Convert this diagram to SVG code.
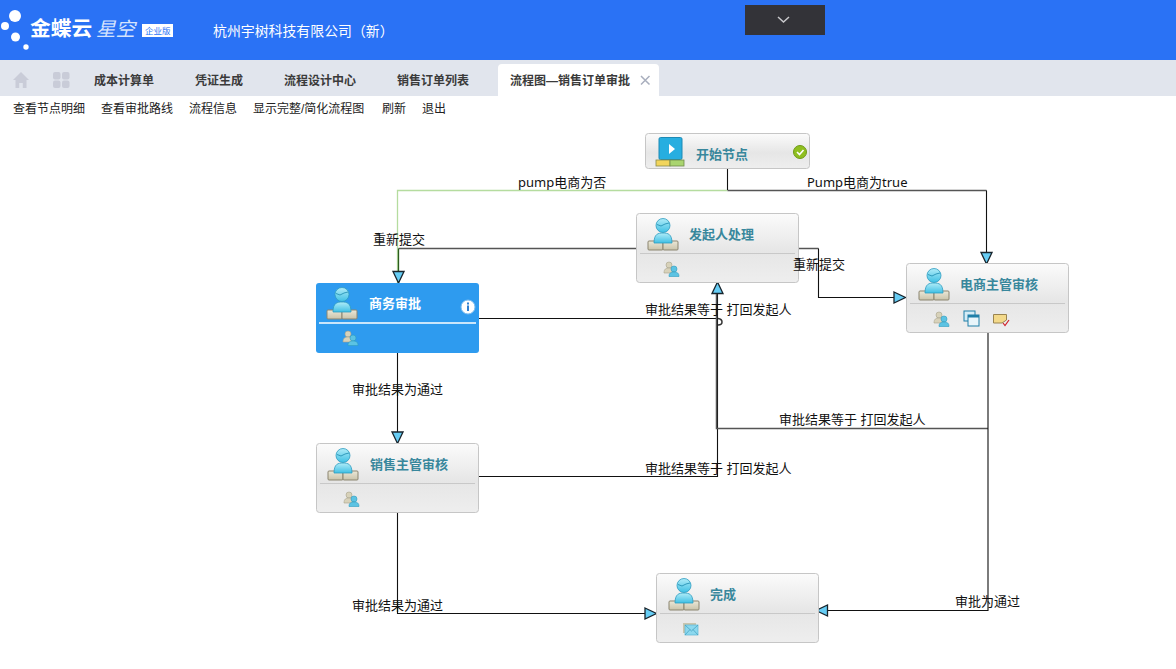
<svg xmlns="http://www.w3.org/2000/svg" xmlns:xlink="http://www.w3.org/1999/xlink" width="1176" height="669" viewBox="0 0 1176 669">
<style>
text{font-family:"Liberation Sans","Noto Sans CJK SC",sans-serif}
.lbl{font-size:13px;fill:#111;font-family:"Noto Sans","Noto Sans CJK SC",sans-serif}
.tb{font-size:12px;fill:#222}
.tab{font-size:12px;fill:#3a3a3a;font-weight:700}
.nm{font-size:13px;font-weight:700;fill:#38879c}
.box{fill:url(#nodeg);stroke:#c6c6c6;stroke-width:1}
.sep{stroke:#c8c8c8;stroke-width:1.2}
.c{fill:none;stroke:#111;stroke-width:1.1}
.g{fill:none;stroke:#555;stroke-width:1.5}
</style>
<defs>
<linearGradient id="nodeg" x1="0" y1="0" x2="0" y2="1"><stop offset="0" stop-color="#fbfbfb"/><stop offset=".55" stop-color="#e6e6e6"/><stop offset="1" stop-color="#eeeeee"/></linearGradient>
<linearGradient id="pg" x1="0" y1="0" x2="0" y2="1"><stop offset="0" stop-color="#b0ecf8"/><stop offset="1" stop-color="#40c0e4"/></linearGradient>
<linearGradient id="bg" x1="0" y1="0" x2="0" y2="1"><stop offset="0" stop-color="#ece8d8"/><stop offset="1" stop-color="#c9c3aa"/></linearGradient>
<marker id="arr" markerWidth="16" markerHeight="14" refX="13" refY="6.500" orient="auto" markerUnits="userSpaceOnUse"><path d="M1.500 1L13 6.500L1.500 12Z" fill="#66cdf5" stroke="#18242c" stroke-width="1.300"/></marker>
<g id="person">
<rect x="0" y="23" width="15" height="9" rx="1" fill="url(#bg)" stroke="#8b8570"/>
<rect x="15" y="23" width="15" height="9" rx="1" fill="url(#bg)" stroke="#8b8570"/>
<path d="M6 25C6 16 10 15 15 15C20 15 24 16 24 25Z" fill="url(#pg)" stroke="#2d9cc0" stroke-width=".8"/>
<circle cx="15" cy="7.500" r="7" fill="url(#pg)" stroke="#2d9cc0" stroke-width=".8"/>
<path d="M9 6.500L13 8L17 6L21 5" fill="none" stroke="#1d8aaf" stroke-width=".8"/>
</g>
<g id="users">
<circle cx="6" cy="4" r="3" fill="#d8d2ba" stroke="#a8a28c" stroke-width=".6"/>
<path d="M1 12C1 8 3 7 6 7C9 7 11 8 11 12Z" fill="#d8d2ba" stroke="#a8a28c" stroke-width=".6"/>
<circle cx="11" cy="8" r="3" fill="#5cc3e3" stroke="#2d9cc0" stroke-width=".6"/>
<path d="M6 15.500C6 12 8 11 11 11C14 11 16 12 16 15.500Z" fill="#5cc3e3" stroke="#2d9cc0" stroke-width=".6"/>
</g>
</defs>
<rect width="1176" height="669" fill="#fff"/>
<g id="header">
<rect width="1176" height="60" fill="#2a72f5"/>
<circle cx="15" cy="16" r="6" fill="#fff"/><circle cx="5" cy="26" r="4" fill="#fff"/><circle cx="15.500" cy="37" r="4.500" fill="#fff"/><circle cx="26" cy="47" r="2.700" fill="#fff"/>
<text x="30" y="36" font-size="20.700" font-weight="700" fill="#fff">金蝶云</text>
<text x="96" y="36" font-size="19.500" font-style="italic" fill="#d5e3fd">星空</text>
<rect x="142" y="24" width="31" height="13" fill="#fff"/><text x="145" y="34" font-size="8.500" fill="#2a72f5">企业版</text>
<text x="213" y="36" font-size="13.900" fill="#fff">杭州宇树科技有限公司（新）</text>
<rect x="745" y="5" width="80" height="30" fill="#333338"/>
<path d="M778 17L783.500 22L789 17" fill="none" stroke="#c9c9cc" stroke-width="1.500"/>
</g>
<g id="tabs">
<rect y="60" width="1176" height="36" fill="#e1e5ed"/>
<path d="M13 80L21 72L29 80H26.500V88H22.800V83H19.200V88H15.500V80Z" fill="#c9ccd8"/>
<rect x="53" y="72" width="7.500" height="7.500" rx="2" fill="#c9ccd8"/><rect x="62" y="72" width="7.500" height="7.500" rx="2" fill="#c9ccd8"/><rect x="53" y="80.500" width="7.500" height="7.500" rx="2" fill="#c9ccd8"/><rect x="62" y="80.500" width="7.500" height="7.500" rx="2" fill="#c9ccd8"/>
<text class="tab" x="94" y="85">成本计算单</text>
<text class="tab" x="195" y="85">凭证生成</text>
<text class="tab" x="284" y="85">流程设计中心</text>
<text class="tab" x="397" y="85">销售订单列表</text>
<path d="M498 96V68Q498 64 502 64H655Q659 64 659 68V96Z" fill="#fff"/>
<text class="tab" x="510" y="85">流程图—销售订单审批</text>
<path d="M641 76L649.500 84.500M649.500 76L641 84.500" stroke="#a8aebd" stroke-width="1.500"/>
</g>
<g id="toolbar">
<text class="tb" x="13" y="113">查看节点明细</text>
<text class="tb" x="101" y="113">查看审批路线</text>
<text class="tb" x="189" y="113">流程信息</text>
<text class="tb" x="253" y="113">显示完整/简化流程图</text>
<text class="tb" x="382" y="113">刷新</text>
<text class="tb" x="422" y="113">退出</text>
</g>
<g id="connectors">
<path d="M727.500 190.500H397.500V283" fill="none" stroke="#b5dc9f" stroke-width="1.300"/>
<path class="c" d="M727.500 168V190"/>
<path class="g" d="M727.500 190.500H986.500"/>
<path class="c" d="M986.500 190.500V264" marker-end="url(#arr)"/>
<path class="g" d="M636 248.500H398.500"/>
<path d="M398.500 248.500V283" fill="none" stroke="#2c5c1e" stroke-width="1.300" marker-end="url(#arr)"/>
<path class="g" d="M799 248.500H818.500"/>
<path class="c" d="M818.500 248.500V297.500H905.500" marker-end="url(#arr)"/>
<path class="c" d="M479 318.500H718"/>
<path d="M718 318.500Q722 319 722 322Q722 325 718 325" fill="none" stroke="#333" stroke-width="1.500"/>
<path class="c" d="M397.500 353V443.500" marker-end="url(#arr)"/>
<path class="c" d="M477 476.500H717.500V282" marker-end="url(#arr)"/>
<path class="g" d="M988 428.500H716.500V294"/>
<path class="c" d="M397.500 513V613.500H656.500" marker-end="url(#arr)"/>
<path class="c" d="M988 333V610.500H816" marker-end="url(#arr)"/>
</g>
<g id="node-start">
<rect class="box" x="645.500" y="133.500" width="164" height="35" rx="3"/>
<rect x="659" y="137.500" width="23" height="22" rx="1.500" fill="#27aee0" stroke="#1d8ab5"/>
<path d="M669 144L675 149L669 154Z" fill="#fff"/>
<rect x="656" y="160" width="14" height="6" fill="#f2d55c" stroke="#8b8b4a" stroke-width=".8"/>
<rect x="670" y="160" width="14" height="6" fill="#a9d46f" stroke="#6f8b4a" stroke-width=".8"/>
<text class="nm" x="696" y="159">开始节点</text>
<circle cx="800" cy="152" r="6.500" fill="#8fbf1f" stroke="#6f9a18"/>
<path d="M797 152L799.500 154.500L803.500 150" fill="none" stroke="#fff" stroke-width="1.600"/>
</g>
<g id="node-initiator">
<rect class="box" x="636.500" y="213.500" width="162" height="69" rx="3"/>
<use href="#person" x="648" y="218"/>
<text class="nm" x="689" y="239">发起人处理</text>
<line class="sep" x1="640" y1="253.500" x2="795" y2="253.500"/>
<use href="#users" x="663" y="261"/>
</g>
<g id="node-business">
<rect x="316" y="283" width="163" height="70" rx="3" fill="#2e9bef"/>
<use href="#person" x="327" y="287"/>
<text x="369" y="308" font-size="13" font-weight="700" fill="#fff">商务审批</text>
<circle cx="468" cy="307" r="7" fill="#fff" stroke="#7bbcf0"/>
<rect x="467" y="305.500" width="2" height="5.500" fill="#2e7fd0"/><rect x="467" y="302.500" width="2" height="2" fill="#2e7fd0"/>
<line x1="319" y1="323" x2="476" y2="323" stroke="#fff" stroke-width="1.300"/>
<use href="#users" x="342" y="330"/>
</g>
<g id="node-ecommerce">
<rect class="box" x="906.500" y="263.500" width="162" height="69" rx="3"/>
<use href="#person" x="919" y="268"/>
<text class="nm" x="960" y="289">电商主管审核</text>
<line class="sep" x1="910" y1="303.500" x2="1065" y2="303.500"/>
<use href="#users" x="933" y="311"/>
<rect x="964" y="311" width="11" height="10" fill="#d5ecf6" stroke="#1f7fa8"/>
<rect x="968" y="315" width="11" height="11" fill="#e9f5fa" stroke="#1f7fa8"/>
<rect x="968" y="315" width="11" height="2.500" fill="#1f7fa8"/>
<path d="M993.500 314.500H1006.500V320L1002 323H993.500Z" fill="#f3d98a" stroke="#9a8450"/>
<path d="M1003 323L1005 325.500L1009 320" fill="none" stroke="#d0202a" stroke-width="1.200"/>
</g>
<g id="node-sales">
<rect class="box" x="316.500" y="443.500" width="162" height="69" rx="3"/>
<use href="#person" x="328" y="448"/>
<text class="nm" x="370" y="469">销售主管审核</text>
<line class="sep" x1="320" y1="483.500" x2="475" y2="483.500"/>
<use href="#users" x="343" y="491"/>
</g>
<g id="node-end">
<rect class="box" x="656.500" y="573.500" width="162" height="69" rx="3"/>
<use href="#person" x="669" y="578"/>
<text class="nm" x="710" y="599">完成</text>
<line class="sep" x1="660" y1="613.500" x2="815" y2="613.500"/>
<rect x="683" y="623" width="13" height="10" fill="#c9c5ae"/>
<rect x="685" y="625" width="13" height="10" fill="#8cd8ee" stroke="#5bb8d6" stroke-width=".7"/>
<path d="M685 625L691.500 631L698 625M685 635L690 629.500M698 635L693 629.500" fill="none" stroke="#3f9dbd" stroke-width=".7"/>
</g>
<g id="connector-labels">
<text class="lbl" x="518" y="187">pump电商为否</text>
<text class="lbl" x="807" y="187">Pump电商为true</text>
<text class="lbl" x="373" y="244">重新提交</text>
<text class="lbl" x="793" y="269">重新提交</text>
<text class="lbl" x="645" y="314">审批结果等于 打回发起人</text>
<text class="lbl" x="352" y="394">审批结果为通过</text>
<text class="lbl" x="779" y="424">审批结果等于 打回发起人</text>
<text class="lbl" x="645" y="473">审批结果等于 打回发起人</text>
<text class="lbl" x="352" y="610">审批结果为通过</text>
<text class="lbl" x="955" y="606">审批为通过</text>
</g>
</svg>
